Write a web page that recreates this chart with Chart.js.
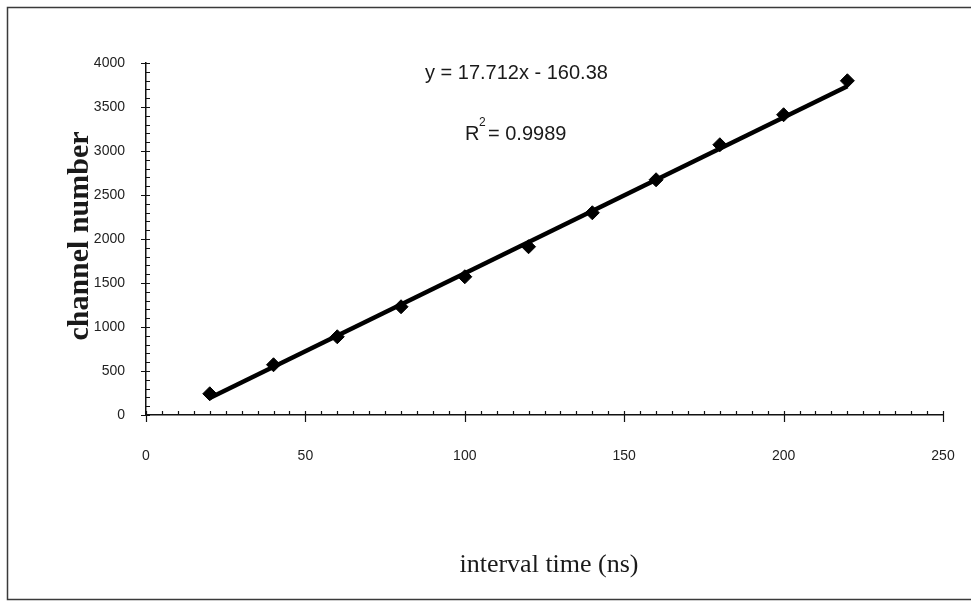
<!DOCTYPE html>
<html>
<head>
<meta charset="utf-8">
<script src="https://cdn.jsdelivr.net/npm/chart.js@4.4.1/dist/chart.umd.min.js"></script>
<style>
  html, body { margin: 0; padding: 0; background: #ffffff; }
  #wrap { position: relative; width: 971px; height: 605px; }
</style>
</head>
<body>
<div id="wrap"><canvas id="c" width="971" height="605"></canvas></div>
<script>
// ---- data ----
const intervalTimes = [20, 40, 60, 80, 100, 120, 140, 160, 180, 200, 220];
const channelNumbers = [241, 571, 889, 1230, 1571, 1912, 2298, 2673, 3071, 3412, 3798];
const trendTimes = [20, 220];
const trendChannels = [194, 3736];
const xTickValues = [0, 50, 100, 150, 200, 250];
const yTickValues = [0, 500, 1000, 1500, 2000, 2500, 3000, 3500, 4000];
const xMinorStep = 5;
const yMinorStep = 100;
const equationText = "y = 17.712x - 160.38";
const r2Value = "= 0.9989";
const xTitle = "interval time (ns)";
const yTitle = "channel number";

const pointsData = intervalTimes.map((t, i) => ({ x: t, y: channelNumbers[i] }));
const trendData = trendTimes.map((t, i) => ({ x: t, y: trendChannels[i] }));

const decorPlugin = {
  id: 'decor',
  beforeDraw(chart) {
    const ctx = chart.ctx;
    ctx.save();
    ctx.fillStyle = '#ffffff';
    ctx.fillRect(0, 0, chart.width, chart.height);
    ctx.strokeStyle = '#3a3a3a';
    ctx.lineWidth = 1.5;
    ctx.strokeRect(7.5, 7.5, 980, 592);
    ctx.restore();
  },
  afterDraw(chart) {
    const ctx = chart.ctx;
    const xs = chart.scales.x, ys = chart.scales.y;
    const x0 = xs.getPixelForValue(0);
    const y0 = ys.getPixelForValue(0);
    ctx.save();
    ctx.strokeStyle = '#111';
    ctx.lineWidth = 1.2;
    ctx.beginPath();
    for (let v = 0; v <= 4000; v += yMinorStep) {
      const py = Math.round(ys.getPixelForValue(v)) + 0.5;
      if (yTickValues.includes(v)) {
        ctx.moveTo(x0 - 5, py); ctx.lineTo(x0 + 4, py);
      } else {
        ctx.moveTo(x0, py); ctx.lineTo(x0 + 4, py);
      }
    }
    for (let v = 0; v <= 250; v += xMinorStep) {
      const px = Math.round(xs.getPixelForValue(v)) + 0.5;
      if (xTickValues.includes(v)) {
        ctx.moveTo(px, y0 - 4); ctx.lineTo(px, y0 + 7);
      } else {
        ctx.moveTo(px, y0 - 4); ctx.lineTo(px, y0);
      }
    }
    ctx.stroke();

    ctx.fillStyle = '#1a1a1a';
    ctx.textBaseline = 'alphabetic';
    ctx.textAlign = 'left';
    ctx.font = '20px "Liberation Sans", Arial, sans-serif';
    ctx.fillText(equationText, 425, 79);
    ctx.fillText('R', 465, 140);
    ctx.font = '12px "Liberation Sans", Arial, sans-serif';
    ctx.fillText('2', 479, 126);
    ctx.font = '20px "Liberation Sans", Arial, sans-serif';
    ctx.fillText(r2Value, 488, 140);

    ctx.font = '26px "Liberation Serif", "Times New Roman", serif';
    ctx.textAlign = 'center';
    ctx.fillText(xTitle, 549, 572);
    ctx.save();
    ctx.translate(88, 236);
    ctx.rotate(-Math.PI / 2);
    ctx.font = 'bold 30px "Liberation Serif", "Times New Roman", serif';
    ctx.fillText(yTitle, 0, 0);
    ctx.restore();
    ctx.restore();
  }
};

new Chart(document.getElementById('c'), {
  type: 'scatter',
  data: {
    datasets: [
      {
        type: 'line',
        label: 'trend',
        data: trendData,
        borderColor: '#000',
        borderWidth: 4.5,
        pointRadius: 0,
        fill: false,
        order: 2
      },
      {
        label: 'channel number',
        data: pointsData,
        pointStyle: 'rectRot',
        pointRadius: 7,
        backgroundColor: '#000',
        borderColor: '#000',
        borderWidth: 1,
        order: 1
      }
    ]
  },
  options: {
    responsive: false,
    animation: false,
    devicePixelRatio: 1,
    layout: { padding: { left: 0, top: 63, right: 28, bottom: 0 } },
    plugins: { legend: { display: false }, tooltip: { enabled: false } },
    scales: {
      x: {
        type: 'linear', min: 0, max: 250,
        afterFit(s) { s.height = 190; s.paddingLeft = 0; s.paddingRight = 0; },
        afterBuildTicks(s) { s.ticks = xTickValues.map(v => ({ value: v })); },
        grid: { display: false },
        border: { display: true, color: '#111', width: 1.5 },
        ticks: {
          padding: 25,
          color: '#222',
          font: { family: '"Liberation Sans", Arial, sans-serif', size: 14 },
          maxRotation: 0,
          callback: v => String(v)
        }
      },
      y: {
        type: 'linear', min: 0, max: 4000,
        afterFit(s) { s.width = 146; s.paddingTop = 0; s.paddingBottom = 0; },
        afterBuildTicks(s) { s.ticks = yTickValues.map(v => ({ value: v })); },
        grid: { display: false },
        border: { display: true, color: '#111', width: 1.5 },
        ticks: {
          padding: 13,
          color: '#222',
          font: { family: '"Liberation Sans", Arial, sans-serif', size: 14 },
          callback: v => String(v)
        }
      }
    }
  },
  plugins: [decorPlugin]
});
</script>
</body>
</html>
